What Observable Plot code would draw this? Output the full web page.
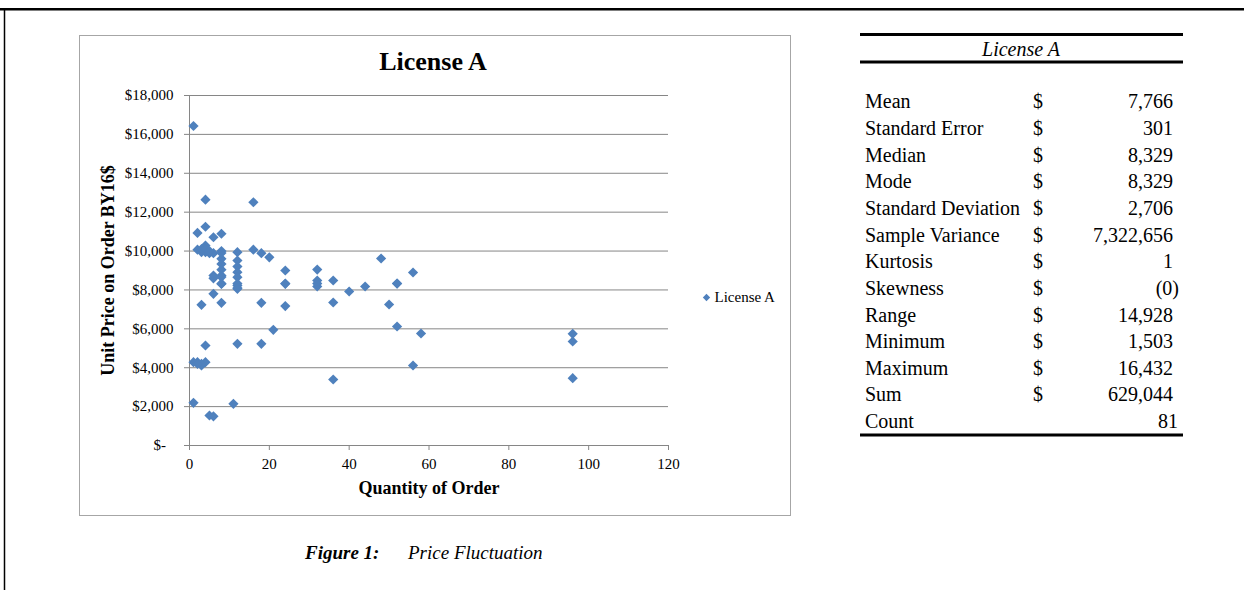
<!DOCTYPE html>
<html>
<head>
<meta charset="utf-8">
<script src="https://cdn.jsdelivr.net/npm/d3@7"></script>
<script src="https://cdn.jsdelivr.net/npm/@observablehq/plot@0.6"></script>
<style>
  html, body { margin: 0; padding: 0; background: #fff; }
  #page { position: relative; width: 1244px; height: 590px; overflow: hidden; background: #fff; }
  #box { position: absolute; left: 79px; top: 35px; width: 710px; height: 479px; border: 1px solid #a6a6a6; }
  #chart { position: absolute; left: 79px; top: 35px; }
  #overlay { position: absolute; left: 0; top: 0; }
</style>
</head>
<body>
<div id="page">
  <div id="box"></div>
  <div id="chart"></div>
  <svg id="overlay" width="1244" height="590"></svg>
</div>
<script>
// ---- data ----
const chartTitle = "License A";
const seriesName = "License A";
const xLabel = "Quantity of Order";
const yLabel = "Unit Price on Order BY16$";
const xTicks = [0, 20, 40, 60, 80, 100, 120];
const yTicks = [0, 2000, 4000, 6000, 8000, 10000, 12000, 14000, 16000, 18000];

const quantity = [1,4,16,2,4,6,8,2,3,4,4,5,6,3,8,8,8,8,8,8,8,12,12,12,12,12,12,12,16,18,20,24,24,24,6,6,6,3,8,18,21,4,12,18,1,2,3,4,1,11,5,6,32,32,32,36,36,40,44,48,52,56,50,52,58,56,36,96,96,96,8,12,24,32,52,4,5,3,2,12,8];
const unitPrice = [16432,12640,12510,10930,11250,10710,10890,10070,9950,10280,9940,9890,9890,10100,10000,9600,9340,9040,8740,8660,8310,9940,9515,9205,8913,8656,8229,8057,10070,9890,9680,9000,8313,7168,8743,8600,7800,7236,7340,7340,5950,5143,5228,5228,4284,4284,4114,4284,2196,2145,1543,1503,9050,8486,8177,8486,7355,7920,8177,9617,8332,8897,7252,6120,5760,4114,3394,5745,5349,3461,8329,8329,8329,8329,8329,10100,10000,4200,4200,8100,9900];

const tableTitle = "License A";
const statLabels = ["Mean","Standard Error","Median","Mode","Standard Deviation","Sample Variance","Kurtosis","Skewness","Range","Minimum","Maximum","Sum","Count"];
const statValues = ["7,766","301","8,329","8,329","2,706","7,322,656","1","(0)","14,928","1,503","16,432","629,044","81"];
const statDollar = [true,true,true,true,true,true,true,true,true,true,true,true,false];

const captionBold = "Figure 1:";
const captionText = "Price Fluctuation";

// ---- chart ----
const serif = "'Liberation Serif', 'Times New Roman', serif";
const rows = quantity.map((q, i) => ({q, p: unitPrice[i]}));
const yFmt = d => d === 0 ? "$-\u2002" : "$" + d3.format(",")(d);
const blue = "#4F81BD";
const gray = "#868686";

const chart = Plot.plot({
  width: 711,
  height: 480,
  marginLeft: 110,
  marginRight: 122,
  marginTop: 60,
  marginBottom: 70,
  x: {domain: [0, 120]},
  y: {domain: [0, 18000]},
  style: {fontFamily: serif, fontSize: "15px", color: "#000", background: "transparent", overflow: "visible"},
  marks: [
    Plot.gridY(yTicks, {stroke: gray, strokeOpacity: 1}),
    Plot.axisY({ticks: yTicks, tickFormat: yFmt, tickSize: 5, tickPadding: 11, stroke: gray, fill: "#000", label: null, fontSize: 15}),
    Plot.axisX({ticks: xTicks, tickSize: 5, tickPadding: 8, stroke: gray, fill: "#000", label: null, fontSize: 15}),
    Plot.ruleX([0], {stroke: gray}),
    Plot.ruleY([0], {stroke: gray}),
    Plot.dot(rows, {x: "q", y: "p", symbol: "diamond2", r: 4.6, fill: blue}),
    Plot.text([chartTitle], {frameAnchor: "top", lineAnchor: "middle", dx: 4, dy: -34, fontSize: 26, fontWeight: "bold", fill: "#000"}),
    Plot.text([xLabel], {frameAnchor: "bottom", lineAnchor: "middle", dy: 43, fontSize: 18, fontWeight: "bold", fill: "#000"}),
    Plot.text([yLabel], {frameAnchor: "left", textAnchor: "middle", lineAnchor: "middle", dx: -81, rotate: -90, fontSize: 18, fontWeight: "bold", fill: "#000"}),
    Plot.dot([seriesName], {frameAnchor: "right", dx: 38, dy: 27, symbol: "diamond2", r: 3.3, fill: blue}),
    Plot.text([seriesName], {frameAnchor: "right", lineAnchor: "middle", textAnchor: "start", dx: 46, dy: 27, fontSize: 15, fill: "#000"})
  ]
});
document.getElementById("chart").appendChild(chart);

// ---- overlay: page rules, statistics table, caption ----
const svg = d3.select("#overlay");
svg.append("line").attr("x1", 0).attr("x2", 1244).attr("y1", 9.3).attr("y2", 9.3).attr("stroke", "#000").attr("stroke-width", 2.6);
svg.append("line").attr("x1", 4.5).attr("x2", 4.5).attr("y1", 9).attr("y2", 590).attr("stroke", "#000").attr("stroke-width", 1.5);

const tx0 = 860, tx1 = 1183;
[34.5, 62, 435].forEach(y => svg.append("line").attr("x1", tx0).attr("x2", tx1).attr("y1", y).attr("y2", y).attr("stroke", "#000").attr("stroke-width", 2.8));
svg.append("text").attr("x", 1021).attr("y", 56).attr("text-anchor", "middle")
  .attr("font-family", serif).attr("font-size", 20).attr("font-style", "italic").text(tableTitle);

const g = svg.append("g").attr("font-family", serif).attr("font-size", 20).attr("fill", "#000");
statLabels.forEach((lab, i) => {
  const y = 108.3 + 26.65 * i;
  g.append("text").attr("x", 865).attr("y", y).text(lab);
  if (statDollar[i]) g.append("text").attr("x", 1033).attr("y", y).text("$");
  const v = statValues[i];
  const xr = (!statDollar[i]) ? 1178 : (v.endsWith(")") ? 1179 : 1173);
  g.append("text").attr("x", xr).attr("y", y).attr("text-anchor", "end").text(v);
});

const cap = svg.append("text").attr("y", 559).attr("font-family", serif).attr("font-size", 19).attr("font-style", "italic");
cap.append("tspan").attr("x", 305).attr("font-weight", "bold").text(captionBold);
cap.append("tspan").attr("x", 408).text(captionText);
</script>
</body>
</html>
